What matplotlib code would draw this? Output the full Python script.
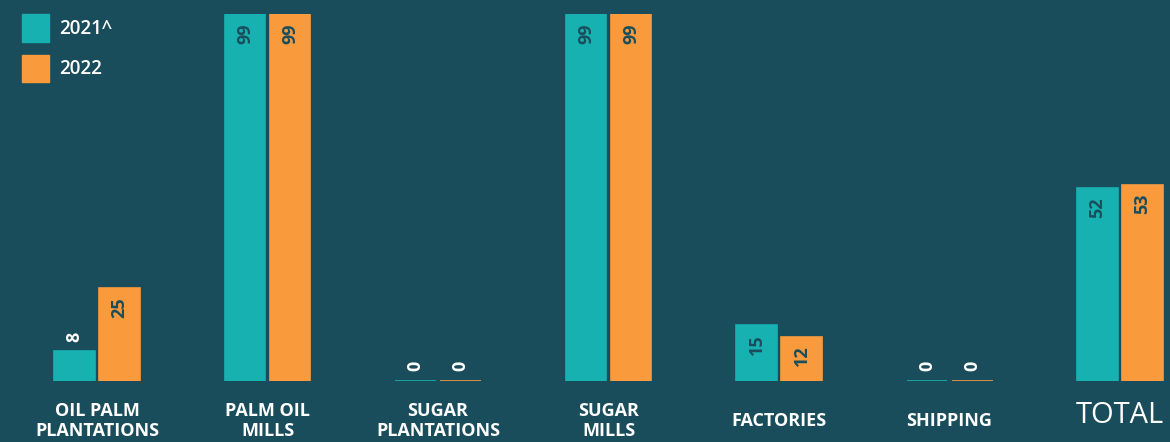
import matplotlib
matplotlib.use("Agg")
import matplotlib.pyplot as plt
import matplotlib.transforms as mtransforms
import numpy as np

# data
categories = ["OIL PALM\nPLANTATIONS", "PALM OIL\nMILLS", "SUGAR\nPLANTATIONS",
              "SUGAR\nMILLS", "FACTORIES", "SHIPPING", "TOTAL"]
series_names = ["2021^", "2022"]
values_2021 = [8, 99, 0, 99, 15, 0, 52]
values_2022 = [25, 99, 0, 99, 12, 0, 53]

bg = "#1a4d5b"
teal = "#17b1b1"
orange = "#f99a3d"

plt.rcParams['font.family'] = ['Open Sans', 'DejaVu Sans']

fig = plt.figure(figsize=(11.7, 4.42), dpi=100, facecolor=bg)
# axes placed so baseline sits ~61px above bottom and 99 reaches ~14px below top
ax = fig.add_axes([0, 61 / 442, 1, (442 - 61 - 14) / 442])
ax.set_facecolor(bg)

x = np.arange(len(categories))
width = 0.24
offset = 0.132

for vals, color, sign in [(values_2021, teal, -1), (values_2022, orange, 1)]:
    xs = x + sign * offset
    ax.bar(xs, vals, width=width, color=color, edgecolor=color, linewidth=1.2)
    for xi, v in zip(xs, vals):
        if v < 10:
            # small values: white label above the bar
            ax.annotate(str(v), (xi, v), xytext=(0, 7), textcoords="offset points",
                        rotation=90, ha="center", va="bottom", color="white",
                        fontsize=13, fontweight="bold")
        else:
            ax.annotate(str(v), (xi, v), xytext=(0, -6.5), textcoords="offset points",
                        rotation=90, ha="center", va="top", color=bg,
                        fontsize=13, fontweight="bold")

ax.set_xlim(-0.569, 6.293)
ax.set_ylim(0, 99)
for s in ax.spines.values():
    s.set_visible(False)
ax.set_yticks([])
ax.set_xticks(x)
ax.set_xticklabels(categories)
ax.tick_params(axis="x", length=0, pad=28.5, colors="white")
for i, lab in enumerate(ax.get_xticklabels()):
    lab.set_linespacing(1.15)
    lab.set_verticalalignment("center")
    if categories[i] == "TOTAL":
        lab.set_fontsize(21)
        lab.set_fontweight("normal")
        lab.set_transform(lab.get_transform() +
                          mtransforms.ScaledTranslation(0, 5 / 100, fig.dpi_scale_trans))
    else:
        lab.set_fontsize(13)
        lab.set_fontweight("bold")

handles = [plt.Rectangle((0, 0), 1, 1, color=teal),
           plt.Rectangle((0, 0), 1, 1, color=orange)]
leg = fig.legend(handles, series_names, loc="upper left",
                 bbox_to_anchor=(22 / 1170, 1 - 14 / 442), frameon=False,
                 handlelength=1.45, handleheight=1.88, handletextpad=0.55,
                 labelspacing=0.7, borderaxespad=0, borderpad=0,
                 prop={"weight": "semibold", "size": 13.5})
for t in leg.get_texts():
    t.set_color("white")

fig.savefig("out.png", dpi=100, facecolor=bg)
